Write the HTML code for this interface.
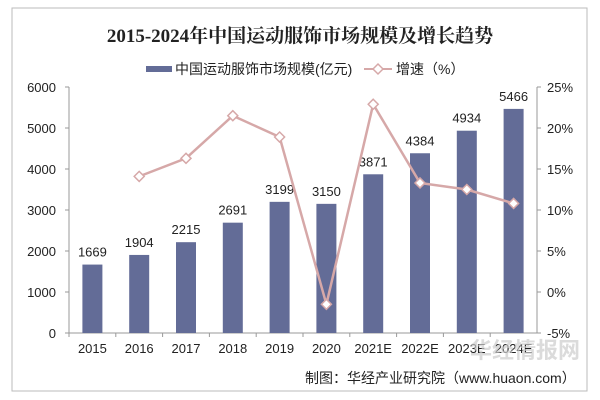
<!DOCTYPE html>
<html><head><meta charset="utf-8"><style>
body{margin:0;background:#fff;}
svg{display:block;font-family:"Liberation Sans","Noto Sans CJK SC",sans-serif;}
</style></head><body>
<svg id="c" width="600" height="400">
<rect x="12" y="8" width="575" height="383" fill="#fff" stroke="#bbb"/>
<text x="300" y="42" text-anchor="middle" font-size="19" font-weight="bold" font-family="Liberation Serif,'Noto Serif CJK SC',serif" fill="#222">2015-2024年中国运动服饰市场规模及增长趋势</text>
<g>
<rect x="146" y="66" width="26" height="6" fill="#636c97"/>
<text x="175" y="74" font-size="14" fill="#222">中国运动服饰市场规模(亿元)</text>
<line x1="364" y1="69" x2="392" y2="69" stroke="#d6a8a8" stroke-width="2"/>
<path d="M378 64 L383 69 L378 74 L373 69Z" fill="#fff" stroke="#d6a8a8" stroke-width="1.5"/>
<text x="396" y="74" font-size="14" fill="#222">增速（%）</text>
</g>
<g id="plot"></g>
<text x="305" y="383" font-size="14" fill="#222">制图：华经产业研究院（www.huaon.com）</text>
<text x="470" y="358" font-size="22" fill="#ccc" opacity="0.7" font-weight="bold">华经情报网</text>
</svg>
<script>
const categories=["2015","2016","2017","2018","2019","2020","2021E","2022E","2023E","2024E"];
const marketSize=[1669,1904,2215,2691,3199,3150,3871,4384,4934,5466];
const growth=[null,14.1,16.3,21.5,18.9,-1.5,22.9,13.3,12.5,10.8];
const leftTicks=[0,1000,2000,3000,4000,5000,6000];
const rightTicks=[-5,0,5,10,15,20,25];
const NS="http://www.w3.org/2000/svg";
const g=document.getElementById('plot');
const X0=69,X1=537,YB=333,YT=87;
const yL=v=>YB-(v/6000)*(YB-YT);
const yR=v=>YB-((v+5)/30)*(YB-YT);
const bw=(X1-X0)/categories.length;
const xC=i=>X0+bw*(i+0.5);
function mk(t,a){const e=document.createElementNS(NS,t);for(const k in a)e.setAttribute(k,a[k]);g.appendChild(e);return e;}
let e;
e=mk('line',{x1:X0,y1:YT,x2:X0,y2:YB,stroke:'#999'});


e=mk('line',{x1:X1,y1:YT,x2:X1,y2:YB,stroke:'#999'});


e=mk('line',{x1:X0,y1:YB,x2:X1,y2:YB,stroke:'#999'});


leftTicks.forEach(v=>{
 mk('line',{x1:X0-4,y1:yL(v),x2:X0,y2:yL(v),stroke:'#999'});
 e=mk('text',{x:X0-13,y:yL(v)+5,'text-anchor':'end','font-size':13,fill:'#222'});e.textContent=v;
 
 
});
rightTicks.forEach(v=>{
 mk('line',{x1:X1,y1:yR(v),x2:X1+4,y2:yR(v),stroke:'#999'});
 e=mk('text',{x:X1+10,y:yR(v)+5,'font-size':13,fill:'#222'});e.textContent=v+'%';
 
 
});
categories.forEach((c,i)=>{
 mk('line',{x1:X0+bw*i,y1:YB,x2:X0+bw*i,y2:YB+4,stroke:'#999'});
 e=mk('rect',{x:xC(i)-10,y:yL(marketSize[i]),width:20,height:YB-yL(marketSize[i]),fill:'#636c97'});
 
 
 e=mk('text',{x:xC(i),y:yL(marketSize[i])-8,'text-anchor':'middle','font-size':13,fill:'#222'});e.textContent=marketSize[i];
 
 
 e=mk('text',{x:xC(i),y:YB+20,'text-anchor':'middle','font-size':13,fill:'#222'});e.textContent=c;
 
 
});
let pts=[];growth.forEach((v,i)=>{if(v!==null)pts.push([xC(i),yR(v)]);});
e=mk('polyline',{points:pts.map(p=>p.join(',')).join(' '),fill:'none',stroke:'#d6a8a8','stroke-width':2.5});


pts.forEach(p=>{
 e=mk('path',{d:`M${p[0]} ${p[1]-5}L${p[0]+5} ${p[1]}L${p[0]} ${p[1]+5}L${p[0]-5} ${p[1]}Z`,fill:'#fff',stroke:'#d6a8a8','stroke-width':1.5});
 
 
});
</script>
</body></html>
